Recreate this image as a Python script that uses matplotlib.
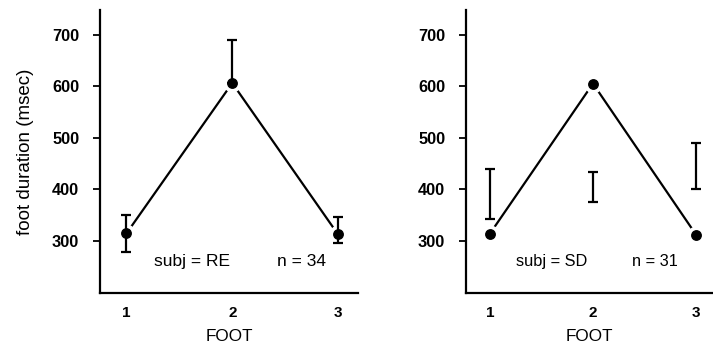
import matplotlib
matplotlib.use("Agg")
import matplotlib.pyplot as plt

plt.rcParams['font.family'] = ['Liberation Sans', 'DejaVu Sans']

# data
feet = [1, 2, 3]

re_mean = [314, 606, 312]
re_err_lo = [277, 606, 295]
re_err_hi = [349, 690, 345]

sd_mean = [313, 605, 311]
sd_err_lo = [342, 375, 401]
sd_err_hi = [439, 433, 490]

panels = [
    ("subj = RE", "n = 34", re_mean, re_err_lo, re_err_hi, True),
    ("subj = SD", "n = 31", sd_mean, sd_err_lo, sd_err_hi, False),
]

fig = plt.figure(figsize=(7.13, 3.44), dpi=100)
rects = [[0.1403, 0.148, 0.362, 0.823], [0.6536, 0.148, 0.346, 0.823]]
xlims = [(0.75, 3.19), (0.77, 3.16)]
note_size = [12.5, 11.8]
note_x = [(1.62, 2.65), (1.6, 2.6)]

for i, (rect, xl, (subj, n, mean, lo, hi, ylab)) in enumerate(zip(rects, xlims, panels)):
    ax = fig.add_axes(rect)
    ax.plot(feet, mean, color='black', lw=1.6, zorder=1)
    # white halo so the line stops short of the dots
    ax.plot(feet, mean, 'o', ms=12, color='white', mec='white', zorder=2)
    ax.plot(feet, mean, 'o', ms=6.8, color='black', zorder=4)
    for x, a, b in zip(feet, lo, hi):
        ax.errorbar([x], [(a + b) / 2], yerr=[[(b - a) / 2], [(b - a) / 2]],
                    fmt='none', ecolor='black', elinewidth=1.6, capsize=3.8,
                    capthick=1.6, zorder=3)
    ax.set_xlim(*xl)
    ax.set_ylim(198, 748)
    ax.set_xticks(feet)
    ax.set_yticks([300, 400, 500, 600, 700])
    ax.tick_params(axis='x', length=0, pad=9.5, labelsize=11)
    ax.tick_params(axis='y', length=5, width=1.3, pad=10, labelsize=11.8)
    for lab in ax.get_xticklabels() + ax.get_yticklabels():
        lab.set_fontweight('bold')
    for s in ['top', 'right']:
        ax.spines[s].set_visible(False)
    for s in ['left', 'bottom']:
        ax.spines[s].set_linewidth(1.6)
    ax.set_xlabel("FOOT", fontsize=12.3, labelpad=6)
    if ylab:
        ax.set_ylabel("foot duration (msec)", fontsize=13.5, labelpad=13)
    ax.text(note_x[i][0], 260, subj, fontsize=note_size[i], ha='center', va='center')
    ax.text(note_x[i][1], 260, n, fontsize=note_size[i], ha='center', va='center')

fig.savefig("out.png", dpi=100, facecolor='white')
